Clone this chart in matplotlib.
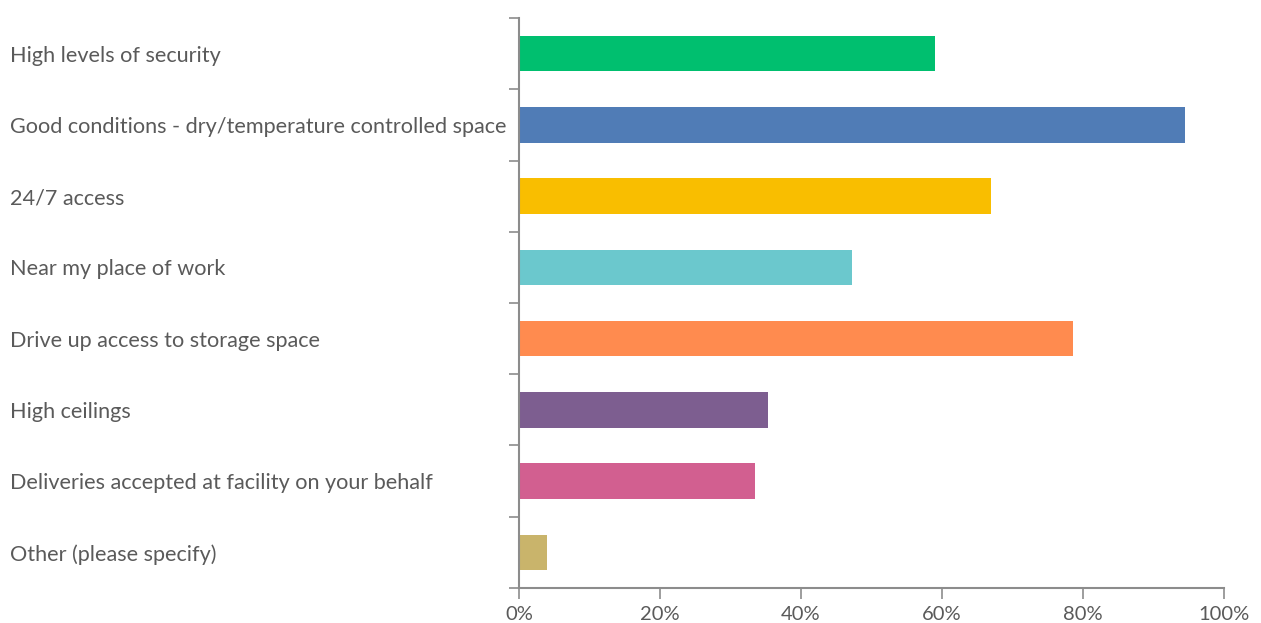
import matplotlib.pyplot as plt
import numpy as np

# Survey answers and share of respondents (%)
categories = [
    "High levels of security",
    "Good conditions - dry/temperature controlled space",
    "24/7 access",
    "Near my place of work",
    "Drive up access to storage space",
    "High ceilings",
    "Deliveries accepted at facility on your behalf",
    "Other (please specify)",
]
values = [59.0, 94.5, 67.0, 47.2, 78.6, 35.3, 33.5, 4.0]
colors = ["#00BF6F", "#507CB6", "#F9BE00", "#6BC8CD",
          "#FF8B4F", "#7D5E90", "#D25F90", "#C9B46B"]
xticks = [0, 20, 40, 60, 80, 100]
xtick_labels = ["0%", "20%", "40%", "60%", "80%", "100%"]

text_color = "#5a5a5a"
axis_color = "#8c8c8c"

plt.rcParams['font.family'] = ['Lato', 'DejaVu Sans']

fig = plt.figure(figsize=(12.61, 6.23), dpi=100)
ax = fig.add_axes([0.4116, 0.0562, 0.5591, 0.9149])

y = np.arange(len(categories))
ax.barh(y, values, height=0.5, color=colors)

ax.set_xlim(0, 100)
ax.set_ylim(len(categories) - 0.5, -0.5)

# x axis
ax.set_xticks(xticks)
ax.set_xticklabels(xtick_labels, fontsize=14.5, color=text_color)
ax.tick_params(axis='x', direction='out', length=8, width=1.2, color=axis_color, pad=5)

# y axis: ticks on the category boundaries, labels left-aligned at the figure edge
ax.set_yticks(np.arange(len(categories) + 1) - 0.5)
ax.set_yticklabels([])
ax.tick_params(axis='y', direction='out', length=7, width=1.2, color=axis_color)
for i, label in enumerate(categories):
    ax.annotate(label, xy=(0, i), xycoords=('figure fraction', 'data'),
                xytext=(10, -2), textcoords='offset pixels',
                ha='left', va='center', fontsize=15.6, color=text_color)

for side in ['top', 'right']:
    ax.spines[side].set_visible(False)
for side in ['left', 'bottom']:
    ax.spines[side].set_color(axis_color)
    ax.spines[side].set_linewidth(1.5)

fig.savefig("out.png", dpi=100, facecolor="white")
